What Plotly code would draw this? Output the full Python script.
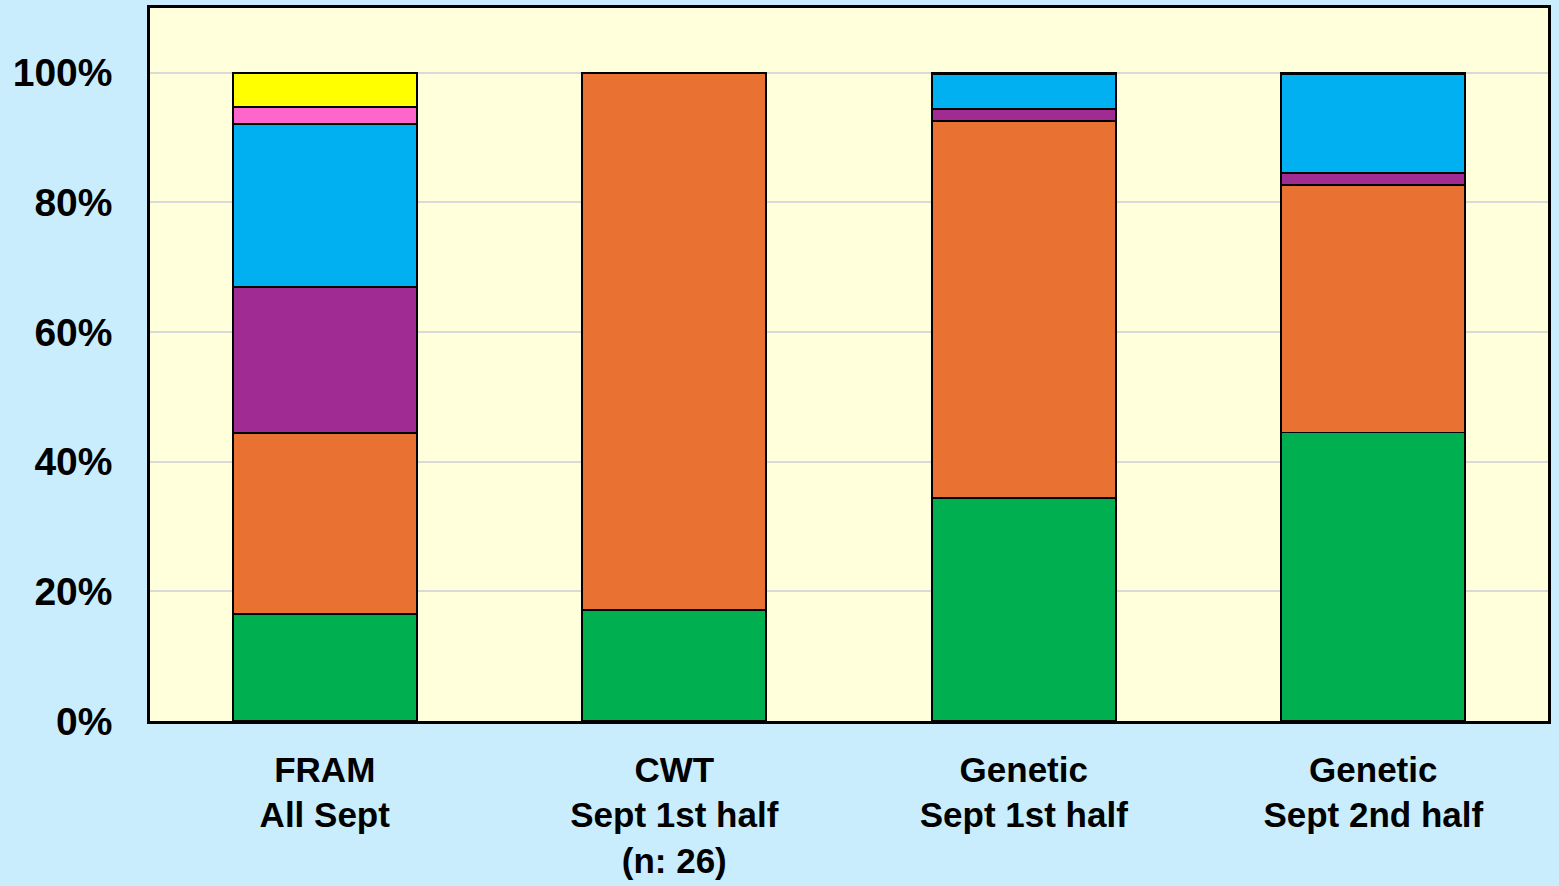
import plotly.graph_objects as go

categories = ["FRAM<br>All Sept", "CWT<br>Sept 1st half<br>(n: 26)", "Genetic<br>Sept 1st half", "Genetic<br>Sept 2nd half"]

green = [0.165, 0.171, 0.344, 0.445]
orange = [0.279, 0.829, 0.582, 0.382]
purple = [0.225, 0.0, 0.018, 0.019]
blue = [0.252, 0.0, 0.054, 0.152]
pink = [0.026, 0.0, 0.001, 0.001]
yellow = [0.053, 0.0, 0.001, 0.001]

series = [
    ("Series 1", green, "#00B050"),
    ("Series 2", orange, "#E97132"),
    ("Series 3", purple, "#A02B93"),
    ("Series 4", blue, "#00B0F0"),
    ("Series 5", pink, "#FF66CC"),
    ("Series 6", yellow, "#FFFF00"),
]

fig = go.Figure()
for name, vals, color in series:
    fig.add_trace(go.Bar(
        x=categories, y=vals, name=name,
        marker=dict(color=color, line=dict(color="#000000", width=1.8)),
        showlegend=False,
    ))

font_family = "Liberation Sans, Arial, sans-serif"
fig.update_layout(
    barmode="stack",
    bargap=0.473,
    width=1559, height=886,
    margin=dict(l=150, r=11, t=8, b=165),
    paper_bgcolor="#C9EDFC",
    plot_bgcolor="#FFFFDC",
    font=dict(family=font_family, color="#000000"),
    xaxis=dict(
        showline=True, linecolor="#000000", linewidth=2.5, mirror=True,
        tickfont=dict(size=35, weight="bold", family=font_family),
        ticks="outside", ticklen=16, tickcolor="rgba(0,0,0,0)",
        showgrid=False, automargin=False,
    ),
    yaxis=dict(
        range=[0, 1.1], dtick=0.2, tickformat=".0%",
        showline=True, linecolor="#000000", linewidth=2.5, mirror=True,
        showgrid=True, gridcolor="#D9D9D9", gridwidth=2,
        zeroline=False, automargin=False,
        tickfont=dict(size=39, weight="bold", family=font_family),
        ticks="outside", ticklen=27, tickcolor="rgba(0,0,0,0)",
    ),
)

fig.write_html(
    "out.html",
    config={"displayModeBar": False},
    post_script="document.body.style.margin='0';document.body.style.overflow='hidden';",
)
